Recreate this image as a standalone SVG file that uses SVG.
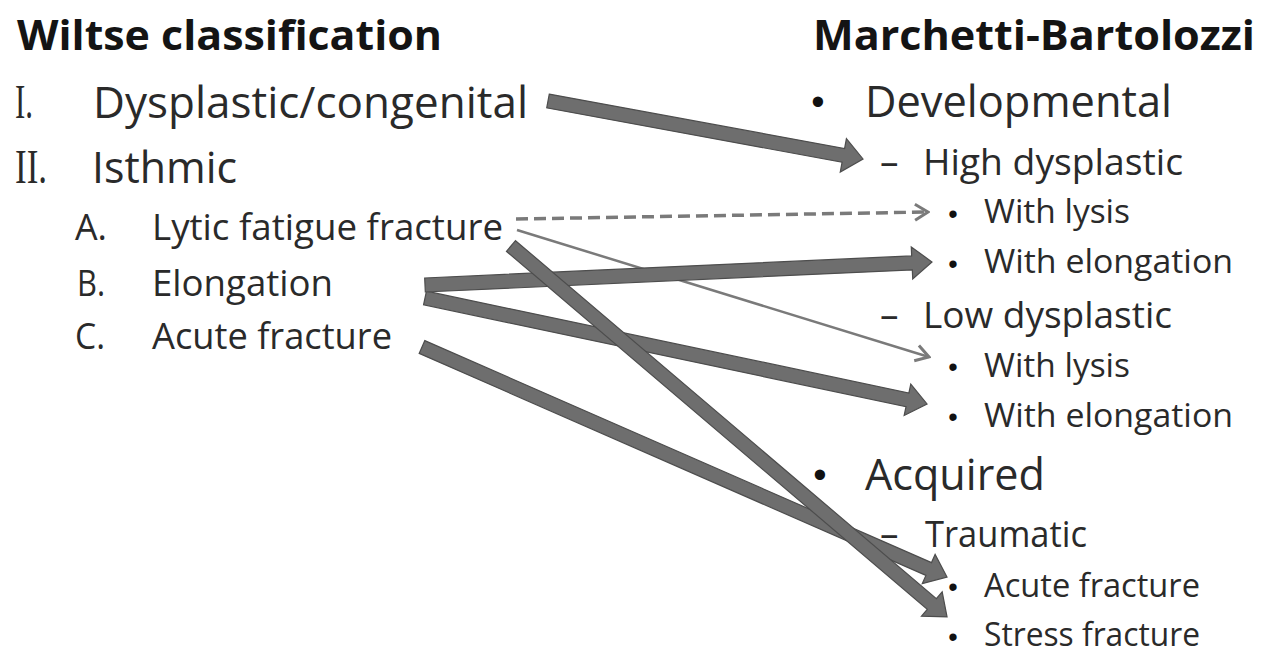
<svg xmlns="http://www.w3.org/2000/svg" width="1265" height="660" viewBox="0 0 1265 660">
<style>
  text { font-family: "Open Sans", "Noto Sans", "Liberation Sans", sans-serif; fill: #2a2a2a; }
  .hd { font-weight: bold; font-size: 42px; fill: #141414; }
  .l1 { font-size: 44px; }
  .l2 { font-size: 37px; }
  .l3 { font-size: 32px; }
  .rn { font-family: "Liberation Serif", serif; font-size: 48px; }
  .bl { font-family: "Liberation Sans", sans-serif; text-anchor: middle; fill: #111; }
  .b1 { font-size: 38px; }
  .b3 { font-size: 27px; }
  .dash { font-size: 37px; }
  .thick { fill: #6e6e6e; stroke: #4d4d4d; stroke-width: 1.2; stroke-linejoin: miter; }
  .thin { fill: none; stroke: #7a7a7a; stroke-width: 2.5; }
  .dashed { fill: none; stroke: #7a7a7a; stroke-width: 3.5; stroke-dasharray: 12 6; }
</style>
<defs>
  <marker id="chev" markerUnits="userSpaceOnUse" markerWidth="18" markerHeight="22" viewBox="0 0 18 22" refX="16" refY="11" orient="auto">
    <path d="M3,3 L16,11 L3,19" fill="none" stroke="#7a7a7a" stroke-width="3"/>
  </marker>
</defs>

<g id="wiltse-heading"><text class="hd" x="17" y="50" textLength="425" lengthAdjust="spacingAndGlyphs">Wiltse classification</text></g>
<g id="w-I"><text class="rn" x="15" y="118" textLength="18" lengthAdjust="spacingAndGlyphs">I.</text><text class="l1" x="93" y="118" textLength="435" lengthAdjust="spacingAndGlyphs">Dysplastic/congenital</text></g>
<g id="w-II"><text class="rn" x="15" y="183" textLength="32" lengthAdjust="spacingAndGlyphs">II.</text><text class="l1" x="92" y="183" textLength="145" lengthAdjust="spacingAndGlyphs">Isthmic</text></g>
<g id="w-A"><text class="l2" x="75" y="240" textLength="32" lengthAdjust="spacingAndGlyphs">A.</text><text class="l2" x="152" y="240" textLength="351" lengthAdjust="spacingAndGlyphs">Lytic fatigue fracture</text></g>
<g id="w-B"><text class="l2" x="77" y="296" textLength="28" lengthAdjust="spacingAndGlyphs">B.</text><text class="l2" x="152" y="296" textLength="181" lengthAdjust="spacingAndGlyphs">Elongation</text></g>
<g id="w-C"><text class="l2" x="75" y="349" textLength="30" lengthAdjust="spacingAndGlyphs">C.</text><text class="l2" x="152" y="349" textLength="240" lengthAdjust="spacingAndGlyphs">Acute fracture</text></g>

<g id="mb-heading"><text class="hd" x="813" y="50" textLength="442" lengthAdjust="spacingAndGlyphs">Marchetti-Bartolozzi</text></g>
<g id="mb-developmental"><text class="bl b1" x="818" y="115">•</text><text class="l1" x="865" y="117" textLength="307" lengthAdjust="spacingAndGlyphs">Developmental</text></g>
<g id="mb-high"><text class="dash" x="880" y="175">–</text><text class="l2" x="923" y="175" textLength="260" lengthAdjust="spacingAndGlyphs">High dysplastic</text></g>
<g id="mb-high-lysis"><text class="bl b3" x="953" y="223">•</text><text class="l3" x="984" y="223" textLength="146" lengthAdjust="spacingAndGlyphs">With lysis</text></g>
<g id="mb-high-elong"><text class="bl b3" x="953" y="273">•</text><text class="l3" x="984" y="273" textLength="249" lengthAdjust="spacingAndGlyphs">With elongation</text></g>
<g id="mb-low"><text class="dash" x="880" y="328">–</text><text class="l2" x="923" y="328" textLength="249" lengthAdjust="spacingAndGlyphs">Low dysplastic</text></g>
<g id="mb-low-lysis"><text class="bl b3" x="953" y="376">•</text><text class="l3" x="984" y="377" textLength="146" lengthAdjust="spacingAndGlyphs">With lysis</text></g>
<g id="mb-low-elong"><text class="bl b3" x="953" y="426">•</text><text class="l3" x="984" y="427" textLength="249" lengthAdjust="spacingAndGlyphs">With elongation</text></g>
<g id="mb-acquired"><text class="bl b1" x="820" y="488">•</text><text class="l1" x="865" y="490" textLength="180" lengthAdjust="spacingAndGlyphs">Acquired</text></g>
<g id="mb-traumatic"><text class="dash" x="880" y="547">–</text><text class="l2" x="925" y="547" textLength="162" lengthAdjust="spacingAndGlyphs">Traumatic</text></g>
<g id="mb-acute"><text class="bl b3" x="953" y="596">•</text><text class="l3" x="984" y="597" textLength="216" lengthAdjust="spacingAndGlyphs">Acute fracture</text></g>
<g id="mb-stress"><text class="bl b3" x="953" y="646">•</text><text class="l3" x="984" y="646" textLength="216" lengthAdjust="spacingAndGlyphs">Stress fracture</text></g>

<g id="connectors">
  <path class="dashed" d="M516,219 L928,212" marker-end="url(#chev)"/>
  <path class="thin" d="M517,230 L929,357" marker-end="url(#chev)"/>
  <path class="thick" transform="translate(548,101) rotate(10.43)" d="M0,-7 L300.3,-7 L300.3,-17 L320.3,0 L300.3,17 L300.3,7 L0,7 Z"/>
  <path class="thick" transform="translate(425,298) rotate(11.92)" d="M0,-7 L493.1,-7 L493.1,-16 L513.1,0 L493.1,16 L493.1,7 L0,7 Z"/>
  <path class="thick" transform="translate(422,347) rotate(23.66)" d="M0,-7 L553.2,-7 L553.2,-16 L573.2,0 L553.2,16 L553.2,7 L0,7 Z"/>
  <path class="thick" transform="translate(425,285) rotate(-2.6)" d="M0,-7 L487.5,-7 L487.5,-16 L507.5,0 L487.5,16 L487.5,7 L0,7 Z"/>
  <path class="thick" transform="translate(511,246) rotate(40.39)" d="M0,-7 L552.5,-7 L552.5,-16 L572.5,0 L552.5,16 L552.5,7 L0,7 Z"/>
</g>
</svg>
